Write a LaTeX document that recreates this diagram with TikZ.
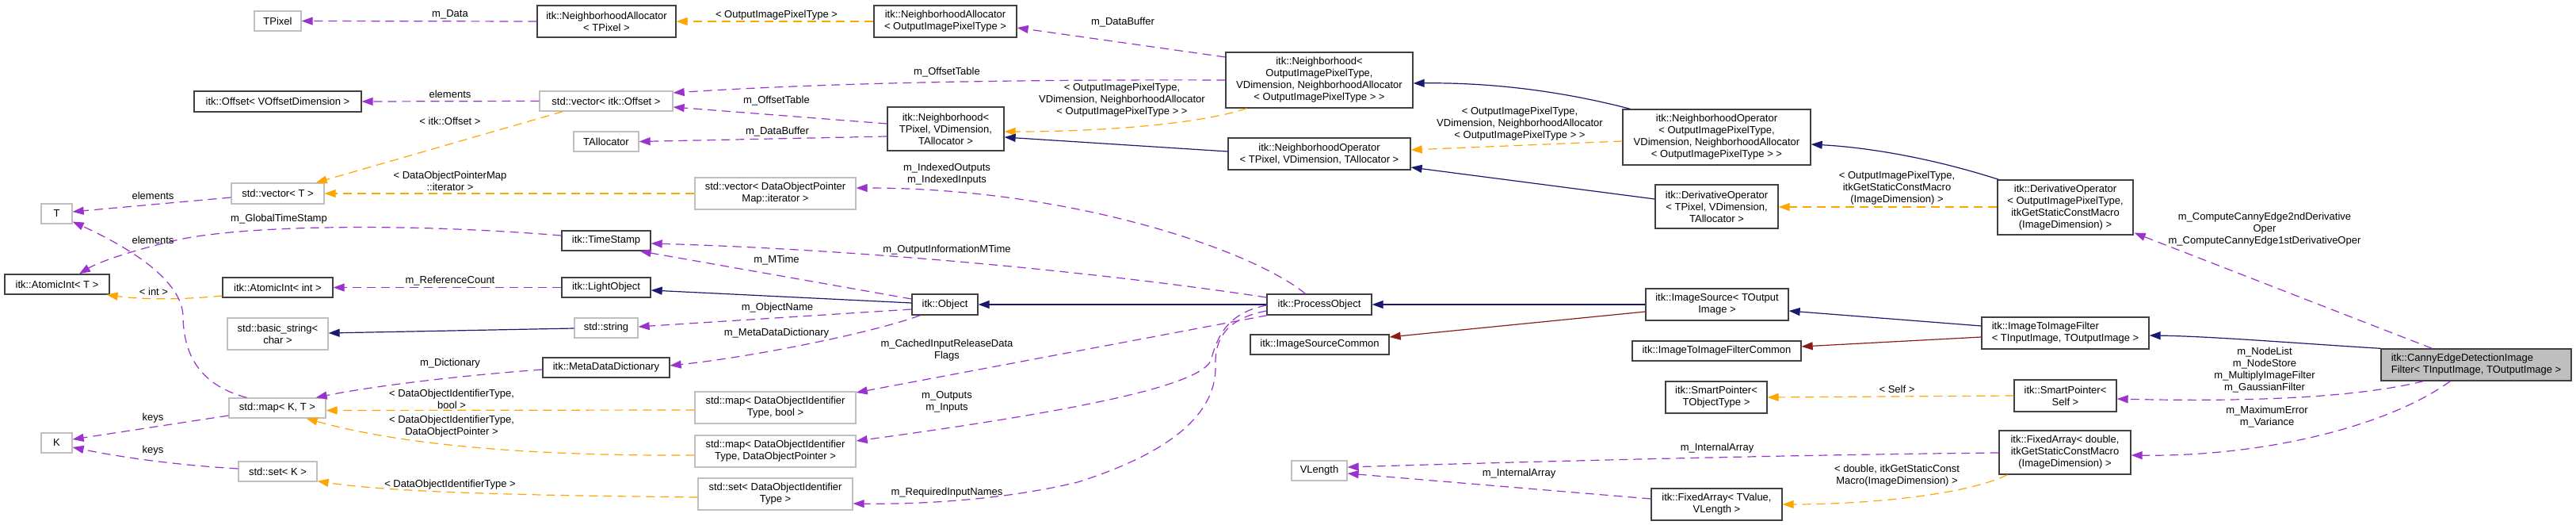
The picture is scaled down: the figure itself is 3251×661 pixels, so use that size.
\documentclass[tikz,border=0pt]{standalone}
\usepackage{fontspec}
\setmainfont{Liberation Sans}
\usetikzlibrary{arrows.meta,calc}
\definecolor{purp}{HTML}{9A32CD}
\definecolor{orng}{HTML}{FFA500}
\definecolor{navyc}{HTML}{191970}
\definecolor{fredc}{HTML}{8B1A1A}
\definecolor{gbord}{HTML}{BFBFBF}
\definecolor{bbord}{HTML}{404040}
\definecolor{cfill}{HTML}{BFBFBF}
\tikzset{
  txt/.style={font=\fontsize{13}{15}\selectfont},
  box/.style={txt, draw=bbord, line width=1.3pt, fill=white, inner sep=0pt, align=center},
  gbox/.style={box, draw=gbord},
  lbl/.style={txt, inner sep=0pt, align=center},
  tipx/.style={-{Triangle[length=14pt,width=10pt]}},
  mem/.style={draw=purp, line width=1.2pt, dash pattern=on 11pt off 7pt, tipx},
  tpl/.style={draw=orng, line width=1.2pt, dash pattern=on 11pt off 7pt, tipx},
  inh/.style={draw=navyc, line width=1.2pt, tipx},
  pinh/.style={draw=fredc, line width=1.2pt, tipx},
}
\begin{document}
\begin{tikzpicture}[x=1pt,y=-1pt]
\fill[white] (0,0) rectangle (3251,661);
\useasboundingbox (0,0) rectangle (3251,661);
% nodes
\node[gbox,minimum width=59pt,minimum height=25pt] (tpixel) at (350.5,26.5) {TPixel};
\node[box,minimum width=211pt,minimum height=26pt] (offset) at (350.5,128) {itk::Offset< VOffsetDimension >};
\node[gbox,minimum width=117pt,minimum height=26pt] (vecT) at (350.5,244) {std::vector< T >};
\node[gbox,minimum width=39pt,minimum height=25pt] (T) at (71.5,269.5) {T};
\node[box,minimum width=132pt,minimum height=25pt] (aiT) at (72,358.5) {itk::AtomicInt< T >};
\node[box,minimum width=139pt,minimum height=25pt] (aiInt) at (350.5,362.5) {itk::AtomicInt< int >};
\node[gbox,minimum width=127pt,minimum height=40pt] (bstr) at (350.5,421) {std::basic\_string<\\char >};
\node[gbox,minimum width=122pt,minimum height=25pt] (mapKT) at (350,514.5) {std::map< K, T >};
\node[gbox,minimum width=39pt,minimum height=25pt] (K) at (71.5,558.5) {K};
\node[gbox,minimum width=99pt,minimum height=25pt] (setK) at (350.5,594.5) {std::set< K >};
\node[box,minimum width=175pt,minimum height=40pt] (naTP) at (765.5,27) {itk::NeighborhoodAllocator\\< TPixel >};
\node[gbox,minimum width=168pt,minimum height=25pt] (vecOff) at (765,127.5) {std::vector< itk::Offset >};
\node[gbox,minimum width=82pt,minimum height=25pt] (talloc) at (765,178.5) {TAllocator};
\node[gbox,minimum width=203pt,minimum height=40pt] (vecDOP) at (978.5,244) {std::vector< DataObjectPointer\\Map::iterator >};
\node[box,minimum width=112pt,minimum height=25pt] (ts) at (765,303.5) {itk::TimeStamp};
\node[box,minimum width=112pt,minimum height=25pt] (lo) at (765,362.5) {itk::LightObject};
\node[gbox,minimum width=80pt,minimum height=25pt] (str) at (765,413.5) {std::string};
\node[box,minimum width=160pt,minimum height=25pt] (mdd) at (765,463.5) {itk::MetaDataDictionary};
\node[gbox,minimum width=203pt,minimum height=40pt] (mapB) at (978.5,514) {std::map< DataObjectIdentifier\\Type, bool >};
\node[gbox,minimum width=203pt,minimum height=40pt] (mapP) at (978.5,569) {std::map< DataObjectIdentifier\\Type, DataObjectPointer >};
\node[gbox,minimum width=195pt,minimum height=40pt] (setD) at (978.5,623) {std::set< DataObjectIdentifier\\Type >};
\node[box,minimum width=180pt,minimum height=40pt] (naO) at (1193,27) {itk::NeighborhoodAllocator\\< OutputImagePixelType >};
\node[box,minimum width=147pt,minimum height=55pt] (nbT) at (1193.5,162.5) {itk::Neighborhood<\\TPixel, VDimension,\\TAllocator >};
\node[box,minimum width=236pt,minimum height=70pt] (nbO) at (1665,101) {itk::Neighborhood<\\OutputImagePixelType,\\VDimension, NeighborhoodAllocator\\< OutputImagePixelType > >};
\node[box,minimum width=230pt,minimum height=40pt] (noT) at (1665,194) {itk::NeighborhoodOperator\\< TPixel, VDimension, TAllocator >};
\node[box,minimum width=83pt,minimum height=26pt] (obj) at (1192.5,384) {itk::Object};
\node[box,minimum width=132pt,minimum height=26pt] (po) at (1665,384) {itk::ProcessObject};
\node[box,minimum width=175pt,minimum height=25pt] (isc) at (1665.5,434.5) {itk::ImageSourceCommon};
\node[gbox,minimum width=70pt,minimum height=25pt] (vlen) at (1665,593.5) {VLength};
\node[box,minimum width=237pt,minimum height=70pt] (noO) at (2166.5,173) {itk::NeighborhoodOperator\\< OutputImagePixelType,\\VDimension, NeighborhoodAllocator\\< OutputImagePixelType > >};
\node[box,minimum width=155pt,minimum height=55pt] (doT) at (2166.5,260.5) {itk::DerivativeOperator\\< TPixel, VDimension,\\TAllocator >};
\node[box,minimum width=180pt,minimum height=40pt] (is) at (2167,384) {itk::ImageSource< TOutput\\Image >};
\node[box,minimum width=213pt,minimum height=25pt] (itifc) at (2166.5,442.5) {itk::ImageToImageFilterCommon};
\node[box,minimum width=128pt,minimum height=40pt] (spT) at (2166,501) {itk::SmartPointer<\\TObjectType >};
\node[box,minimum width=165pt,minimum height=40pt] (faT) at (2166.5,636) {itk::FixedArray< TValue,\\VLength >};
\node[box,minimum width=171pt,minimum height=69pt] (doO) at (2606.5,261.5) {itk::DerivativeOperator\\< OutputImagePixelType,\\itkGetStaticConstMacro\\(ImageDimension) >};
\node[box,minimum width=211pt,minimum height=40pt,align=left] (itif) at (2606.5,420) {itk::ImageToImageFilter\\< TInputImage, TOutputImage >};
\node[box,minimum width=129pt,minimum height=40pt] (spS) at (2606.5,499) {itk::SmartPointer<\\Self >};
\node[box,minimum width=166pt,minimum height=55pt] (faD) at (2606,570.5) {itk::FixedArray< double,\\itkGetStaticConstMacro\\(ImageDimension) >};
\node[box,fill=cfill,minimum width=240pt,minimum height=40pt,align=left] (canny) at (3125,460) {itk::CannyEdgeDetectionImage\\Filter< TInputImage, TOutputImage >};
% edges
\draw[mem] (naTP.west) -- (tpixel.east);
\draw[tpl] (naO.west) -- (naTP.east);
\draw[mem] ($(nbO.west)+(0,-29)$) -- ($(naO.east)+(0,8)$);
\draw[mem] (nbO.west) .. controls (1300,100) and (1050,104) .. ($(vecOff.east)+(0,-10.5)$);
\draw[mem] ($(nbT.west)+(0,-6.5)$) -- ($(vecOff.east)+(0,7.5)$);
\draw[mem] ($(nbT.west)+(0,9.5)$) -- (talloc.east);
\draw[tpl] ($(nbO.south west)+(27,0)$) .. controls (1520,155) and (1400,166) .. ($(nbT.east)+(0,3.5)$);
\draw[inh] ($(noT.west)+(0,-3)$) -- ($(nbT.east)+(0,10.5)$);
\draw[inh] ($(noO.north west)+(10,0)$) .. controls (1960,112) and (1870,104) .. ($(nbO.east)+(0,4)$);
\draw[tpl] ($(noO.west)+(0,5)$) -- ($(noT.east)+(0,-5)$);
\draw[inh] ($(doT.west)+(0,-9.5)$) -- ($(noT.east)+(0,17)$);
\draw[inh] ($(doO.north west)+(2,0)$) .. controls (2440,200) and (2360,186) .. ($(noO.east)+(0,9)$);
\draw[tpl] ($(doO.west)+(0,-0.5)$) -- ($(doT.east)+(0,0.5)$);
\draw[mem] ($(canny.north west)+(65,0)$) -- ($(doO.south east)+(1,-3)$);
\draw[inh] (canny.north west) .. controls (2900,433) and (2790,424) .. ($(itif.east)+(0,3)$);
\draw[mem] ($(canny.south west)+(54,0)$) .. controls (2960,505) and (2800,506) .. ($(spS.east)+(0,4)$);
\draw[mem] ($(canny.south west)+(88,0)$) .. controls (3010,540) and (2850,576) .. ($(faD.east)+(0,3.5)$);
\draw[inh] ($(itif.west)+(0,-9)$) -- ($(is.east)+(0,8)$);
\draw[pinh] ($(itif.west)+(0,5)$) -- ($(itifc.east)+(0,-5.5)$);
\draw[tpl] (spS.west) -- (spT.east);
\draw[mem] ($(faD.west)+(0,0.5)$) .. controls (2300,573) and (2000,580) .. ($(vlen.east)+(0,-4.5)$);
\draw[tpl] ($(faD.south west)+(11,0)$) .. controls (2480,625) and (2350,636) .. (faT.east);
\draw[mem] ($(faT.west)+(0,-7)$) -- ($(vlen.east)+(0,3.5)$);
\draw[inh] (is.west) -- (po.east);
\draw[pinh] ($(is.west)+(0,9)$) -- ($(isc.east)+(0,-9.5)$);
\draw[inh] (po.west) -- (obj.east);
\draw[inh] ($(obj.west)+(0,-2)$) -- ($(lo.east)+(0,3.5)$);
\draw[mem] ($(obj.west)+(0,-7)$) -- ($(ts.south east)+(-14,0)$);
\draw[mem] ($(obj.west)+(0,6)$) -- ($(str.east)+(0,-1.5)$);
\draw[mem] ($(obj.south west)+(11,0)$) .. controls (1100,420) and (950,450) .. ($(mdd.east)+(0,-2.5)$);
\draw[mem] ($(po.west)+(0,-9)$) .. controls (1400,345) and (1100,315) .. ($(ts.east)+(0,3.5)$);
\draw[mem] ($(po.north west)+(49,0)$) .. controls (1580,315) and (1350,237) .. ($(vecDOP.east)+(0,-7)$);
\draw[mem] ($(po.south west)+(1,0)$) -- ($(mapB.east)+(0,-19)$);
\draw[mem] ($(po.west)+(0,1)$) .. controls (1545,395) and (1535,430) .. (1528,455) .. controls (1515,480) and (1420,510) .. ($(mapP.east)+(0,-13)$);
\draw[mem] ($(po.west)+(0,8)$) .. controls (1545,402) and (1533,430) .. (1534,460) .. controls (1536,520) and (1480,570) .. (1360,608) .. controls (1260,632) and (1150,636) .. ($(setD.east)+(0,12)$);
\draw[mem] (lo.west) -- (aiInt.east);
\draw[tpl] ($(aiInt.west)+(0,10.5)$) .. controls (230,378) and (180,378) .. ($(aiT.south east)+(-4,0)$);
\draw[inh] ($(str.west)+(0,0.5)$) -- ($(bstr.east)+(0,-1)$);
\draw[mem] ($(mdd.west)+(0,2.5)$) .. controls (600,472) and (480,485) .. ($(mapKT.north east)+(-13,0)$);
\draw[tpl] ($(mapB.west)+(0,3)$) -- ($(mapKT.east)+(0,3)$);
\draw[tpl] ($(mapP.west)+(0,5)$) .. controls (700,575) and (520,565) .. ($(mapKT.south east)+(-25,0)$);
\draw[tpl] ($(setD.west)+(0,4)$) .. controls (700,625) and (500,622) .. ($(setK.south east)+(0,-1)$);
\draw[mem] ($(mapKT.west)+(0,9.5)$) -- ($(K.east)+(0,-4.5)$);
\draw[mem] ($(setK.west)+(0,-3.5)$) .. controls (200,585) and (130,572) .. ($(K.east)+(0,5.5)$);
\draw[mem] ($(mapKT.north west)+(23,0)$) .. controls (250,485) and (232,445) .. (231,400) .. controls (231,360) and (180,320) .. ($(T.east)+(0,10)$);
\draw[mem] ($(ts.west)+(0,-6.5)$) .. controls (500,280) and (300,285) .. (222,303) .. controls (170,315) and (125,330) .. ($(aiT.north)+(28,0)$);
\draw[mem] ($(vecT.west)+(0,5)$) -- ($(T.east)+(0,-2.5)$);
\draw[mem] (vecOff.west) -- (offset.east);
\draw[tpl] ($(vecOff.south west)+(30,0)$) -- ($(vecT.north east)+(-11,0)$);
\draw[tpl] (vecDOP.west) -- (vecT.east);
% labels
\node[lbl] (l1) at (568,18) {m\_Data};
\node[lbl] (l2) at (980,19) {< OutputImagePixelType >};
\node[lbl] (l3) at (1417,28) {m\_DataBuffer};
\node[lbl] (l4) at (1195,91) {m\_OffsetTable};
\node[lbl] (l5) at (980,127) {m\_OffsetTable};
\node[lbl] (l6) at (981,166) {m\_DataBuffer};
\node[lbl] (l7) at (1416,126.5) {< OutputImagePixelType,\\VDimension, NeighborhoodAllocator\\< OutputImagePixelType > >};
\node[lbl] (l8) at (1918,156) {< OutputImagePixelType,\\VDimension, NeighborhoodAllocator\\< OutputImagePixelType > >};
\node[lbl] (l9) at (2394,237.5) {< OutputImagePixelType,\\itkGetStaticConstMacro\\(ImageDimension) >};
\node[lbl] (l10) at (2858,289.5) {m\_ComputeCannyEdge2ndDerivative\\Oper\\m\_ComputeCannyEdge1stDerivativeOper};
\node[lbl] (l11) at (2858,466.5) {m\_NodeList\\m\_NodeStore\\m\_MultiplyImageFilter\\m\_GaussianFilter};
\node[lbl] (l12) at (2861,526) {m\_MaximumError\\m\_Variance};
\node[lbl] (l13) at (2394,491) {< Self >};
\node[lbl] (l14) at (2167,565) {m\_InternalArray};
\node[lbl] (l15) at (2394,599.5) {< double, itkGetStaticConst\\Macro(ImageDimension) >};
\node[lbl] (l16) at (1917,597) {m\_InternalArray};
\node[lbl] (l17) at (1195,219.5) {m\_IndexedOutputs\\m\_IndexedInputs};
\node[lbl] (l18) at (1195,315) {m\_OutputInformationMTime};
\node[lbl] (l19) at (1195,441.5) {m\_CachedInputReleaseData\\Flags};
\node[lbl] (l20) at (1195,507) {m\_Outputs\\m\_Inputs};
\node[lbl] (l21) at (1195,621) {m\_RequiredInputNames};
\node[lbl] (l22) at (980,328) {m\_MTime};
\node[lbl] (l23) at (981,388) {m\_ObjectName};
\node[lbl] (l24) at (980,420) {m\_MetaDataDictionary};
\node[lbl] (l25) at (568,354) {m\_ReferenceCount};
\node[lbl] (l26) at (568,458) {m\_Dictionary};
\node[lbl] (l27) at (570,503) {< DataObjectIdentifierType,\\bool >};
\node[lbl] (l28) at (570,537.5) {< DataObjectIdentifierType,\\DataObjectPointer >};
\node[lbl] (l29) at (568,611) {< DataObjectIdentifierType >};
\node[lbl] (l30) at (193,527) {keys};
\node[lbl] (l31) at (193,568) {keys};
\node[lbl] (l32) at (194,368) {< int >};
\node[lbl] (l33) at (352,276) {m\_GlobalTimeStamp};
\node[lbl] (l34) at (193,247) {elements};
\node[lbl] (l35) at (193,303) {elements};
\node[lbl] (l36) at (568,119) {elements};
\node[lbl] (l37) at (568,153) {< itk::Offset >};
\node[lbl] (l38) at (568,228) {< DataObjectPointerMap\\::iterator >};
\end{tikzpicture}
\end{document}
